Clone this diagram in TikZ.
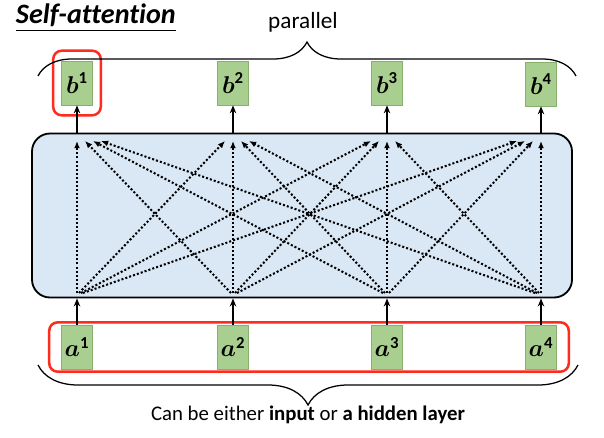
\documentclass[tikz,border=0pt]{standalone}
\usepackage{amsmath}
\usepackage{fontspec}
\setmainfont{Carlito}[Ligatures=NoCommon]
\usetikzlibrary{arrows.meta,fit,decorations.pathreplacing}
\definecolor{vecgreen}{HTML}{A9CF90}
\definecolor{vecedge}{HTML}{86B06C}
\definecolor{panelblue}{HTML}{DAE8F5}
\definecolor{markred}{HTML}{FF2B1C}
\begin{document}
\begin{tikzpicture}[x=0.25mm,y=-0.25mm,
  vec/.style={draw=vecedge,fill=vecgreen,minimum width=7.75mm,minimum height=11mm,inner sep=0pt,font=\fontsize{17}{20}\selectfont},
  redframe/.style={draw=markred,line width=1.8pt,rounded corners=6pt},
  up/.style={-{Stealth[length=2mm,width=1.6mm]},line width=1.1pt},
  attn/.style={-{Latex[length=1.8mm,width=1.5mm]},line width=1.45pt,dash pattern=on 1.45pt off 1.45pt},
  curly/.style={decorate,line width=0.9pt}
]
\useasboundingbox (0,0) rectangle (604,437);
\node[anchor=west,font=\fontsize{20}{22}\selectfont\bfseries\itshape] (title) at (11,18) {\underline{Self-attention}};

% outputs
\node[vec] (b1) at (77,83) {$\boldsymbol{b}^{\mathbf{1}}$};
\node[vec] (b2) at (233,83) {$\boldsymbol{b}^{\mathbf{2}}$};
\node[vec] (b3) at (387,83) {$\boldsymbol{b}^{\mathbf{3}}$};
\node[vec] (b4) at (541,84) {$\boldsymbol{b}^{\mathbf{4}}$};
\node[redframe,fit=(b1),inner xsep=2mm,inner ysep=2.5mm] (pick) {};

% inputs
\node[vec] (a1) at (77,347) {$\boldsymbol{a}^{\mathbf{1}}$};
\node[vec] (a2) at (233,347) {$\boldsymbol{a}^{\mathbf{2}}$};
\node[vec] (a3) at (387,347) {$\boldsymbol{a}^{\mathbf{3}}$};
\node[vec] (a4) at (541,347) {$\boldsymbol{a}^{\mathbf{4}}$};
\node[redframe,fit=(a1)(a4),inner xsep=3mm,inner ysep=0.6mm] (inputs) {};

% self-attention layer
\node[draw,fill=panelblue,line width=1.3pt,rounded corners=4.5mm,minimum width=135mm,minimum height=41mm] (panel) at (302,215.5) {};

\foreach \i/\xi in {1/77,2/233,3/387,4/541}{
  \foreach \j/\xj in {1/77,2/233,3/387,4/541}{
    \coordinate (s\j\i) at ({\xj+2*(\i-\j)},293);
    \coordinate (t\j\i) at ({\xi+8*(\j-\i)},141);
    \draw[attn] (s\j\i) -- (t\j\i);
  }
}

\foreach \k in {1,2,3,4}{
  \draw[up] (a\k.north) -- (a\k |- panel.south);
  \draw[up] (panel.north -| b\k) -- (b\k.south);
}

% braces
\draw[curly,decoration={brace,amplitude=8.5mm}] (38,76) -- (576,76);
\node[font=\fontsize{16.5}{18}\selectfont] (par) at (303,22) {parallel};
\draw[curly,decoration={brace,amplitude=10mm}] (578,365) -- (38,365);
\node[font=\fontsize{14.8}{17}\selectfont] (note) at (308,415) {Can be either \textbf{input} or \textbf{a hidden layer}};
\end{tikzpicture}
\end{document}
